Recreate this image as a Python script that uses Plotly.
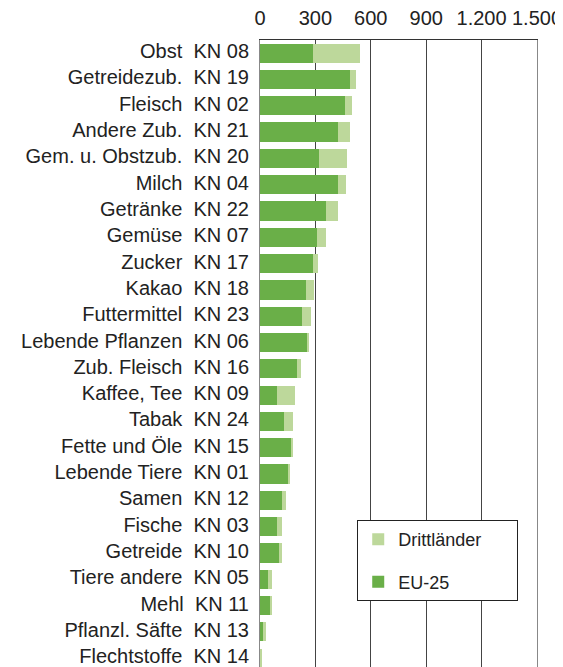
import plotly.graph_objects as go

produkte = ['Obst', 'Getreidezub.', 'Fleisch', 'Andere Zub.', 'Gem. u. Obstzub.', 'Milch',
            'Getränke', 'Gemüse', 'Zucker', 'Kakao', 'Futtermittel', 'Lebende Pflanzen',
            'Zub. Fleisch', 'Kaffee, Tee', 'Tabak', 'Fette und Öle', 'Lebende Tiere', 'Samen',
            'Fische', 'Getreide', 'Tiere andere', 'Mehl', 'Pflanzl. Säfte', 'Flechtstoffe']
kn = ['08', '19', '02', '21', '20', '04', '22', '07', '17', '18', '23', '06',
      '16', '09', '24', '15', '01', '12', '03', '10', '05', '11', '13', '14']

# Mio. Euro
eu25 = [289, 485, 458, 420, 322, 425, 360, 311, 289, 251, 229, 256,
        202, 93, 131, 169, 153, 120, 93, 104, 44, 55, 16, 5]
gesamt = [540, 518, 496, 485, 469, 464, 420, 355, 316, 295, 278, 267,
          224, 191, 180, 180, 158, 142, 120, 120, 65, 60, 33, 7]
dritt = [g - e for g, e in zip(gesamt, eu25)]

labels = [p + ' \u00a0KN ' + k for p, k in zip(produkte, kn)]
pad = '\u00a0' * 6  # Legendenbox etwas breiter

fig = go.Figure()
fig.add_trace(go.Bar(y=labels, x=eu25, name='EU-25' + pad, orientation='h',
                     marker=dict(color='#6AAF48', line=dict(width=0)),
                     legendgroup='eu', legendrank=2))
fig.add_trace(go.Bar(y=labels, x=dritt, name='Drittländer' + pad, orientation='h',
                     marker=dict(color='#BDD89B', line=dict(width=0)),
                     legendgroup='dl', legendrank=1))

# Seite hat 8px body-margin -> Ränder entsprechend kleiner
fig.update_layout(
    width=563, height=667,
    margin=dict(l=252, r=34, t=32, b=0),
    barmode='stack', bargap=0.27,
    plot_bgcolor='white', paper_bgcolor='white',
    font=dict(family='Liberation Sans, Arial', size=20, color='#222'),
    legend=dict(x=0.351, y=0.244, xanchor='left', yanchor='top',
                traceorder='grouped', tracegroupgap=16,
                bgcolor='white', bordercolor='#222', borderwidth=1,
                font=dict(size=18)),
)
fig.update_xaxes(side='top', range=[0, 1500], tickvals=[0, 300, 600, 900, 1200, 1500],
                 ticktext=['0', '300', '600', '900', '1.200', '1.500'],
                 showgrid=True, gridcolor='#444', gridwidth=1, zeroline=False,
                 showline=True, linecolor='#333', mirror=True, ticks='',
                 ticklabelstandoff=6, automargin=False)
fig.update_yaxes(autorange=False, range=[23.64, -0.5], categoryorder='array', categoryarray=labels,
                 showgrid=False, showline=True, linecolor='#888', mirror=True,
                 ticks='', ticklabelstandoff=6, ticklabelshift=2, automargin=False)

fig.write_html("out.html")
